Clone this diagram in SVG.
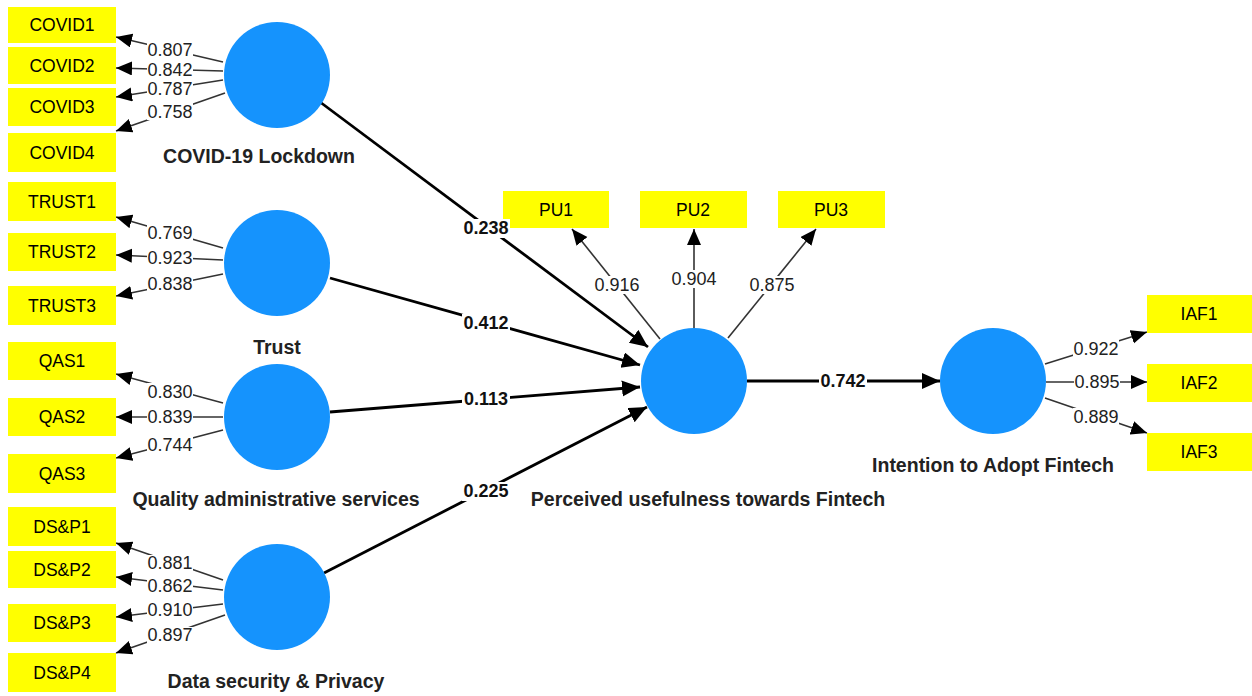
<svg xmlns="http://www.w3.org/2000/svg" width="1252" height="696" viewBox="0 0 1252 696">
<defs>
<style>
.box{fill:#ffff00}
.lv{fill:#1593fd}
.ind{font-family:"Liberation Sans",Arial,sans-serif;font-size:17.5px;text-anchor:middle;dominant-baseline:central;fill:#000}
.name{font-family:"Liberation Sans",Arial,sans-serif;font-size:19.5px;font-weight:bold;text-anchor:middle;fill:#222}
.ld{font-family:"Liberation Sans",Arial,sans-serif;font-size:18px;text-anchor:middle;dominant-baseline:central;fill:#222}
.pc{font-family:"Liberation Sans",Arial,sans-serif;font-size:18px;font-weight:bold;text-anchor:middle;dominant-baseline:central;fill:#111}
.thin{stroke:#333;stroke-width:1.6;fill:none;marker-end:url(#ah)}
.thick{stroke:#000;stroke-width:2.8;fill:none;marker-end:url(#ahb)}
.bg{fill:#fff}
</style>
<marker id="ah" markerUnits="userSpaceOnUse" markerWidth="17" markerHeight="15" refX="16" refY="7" orient="auto" viewBox="0 0 17 15">
<path d="M0,0 L16,7 L0,14 z" fill="#000"/>
</marker>
<marker id="ahb" markerUnits="userSpaceOnUse" markerWidth="19" markerHeight="17" refX="18" refY="8" orient="auto" viewBox="0 0 19 17">
<path d="M0,0 L18,8 L0,16 z" fill="#000"/>
</marker>
</defs>
<rect width="1252" height="696" fill="#fff"/>

<g id="connectors">
<!-- COVID loadings -->
<line class="thin" x1="223" y1="62" x2="116" y2="37"/>
<line class="thin" x1="223" y1="71" x2="116" y2="68"/>
<line class="thin" x1="223" y1="80" x2="116" y2="97"/>
<line class="thin" x1="225" y1="93" x2="116" y2="131"/>
<!-- TRUST loadings -->
<line class="thin" x1="223" y1="248" x2="116" y2="217"/>
<line class="thin" x1="223" y1="260" x2="116" y2="255"/>
<line class="thin" x1="223" y1="274" x2="116" y2="296"/>
<!-- QAS loadings -->
<line class="thin" x1="223" y1="403" x2="116" y2="374"/>
<line class="thin" x1="223" y1="417" x2="116" y2="417"/>
<line class="thin" x1="223" y1="430" x2="116" y2="458"/>
<!-- DSP loadings -->
<line class="thin" x1="223" y1="580" x2="116" y2="543"/>
<line class="thin" x1="223" y1="590" x2="116" y2="577"/>
<line class="thin" x1="223" y1="604" x2="116" y2="617"/>
<line class="thin" x1="225" y1="615" x2="116" y2="653"/>
<!-- PU loadings -->
<line class="thin" x1="660" y1="339" x2="572" y2="229"/>
<line class="thin" x1="694" y1="328" x2="694" y2="229"/>
<line class="thin" x1="728" y1="338" x2="816" y2="229"/>
<!-- IAF loadings -->
<line class="thin" x1="1045" y1="364" x2="1147" y2="332"/>
<line class="thin" x1="1046" y1="382" x2="1147" y2="382"/>
<line class="thin" x1="1045" y1="398" x2="1147" y2="433"/>
<!-- paths -->
<line class="thick" x1="320" y1="102" x2="648" y2="347"/>
<line class="thick" x1="330" y1="278" x2="640" y2="365"/>
<line class="thick" x1="330" y1="412" x2="640" y2="387"/>
<line class="thick" x1="324" y1="573" x2="647" y2="407"/>
<line class="thick" x1="747" y1="381" x2="940" y2="381"/>

<!-- loading labels -->
<g>
<rect class="bg" x="147" y="42" width="46" height="16"/><text class="ld" x="170" y="50">0.807</text>
<rect class="bg" x="147" y="62" width="46" height="16"/><text class="ld" x="170" y="70">0.842</text>
<rect class="bg" x="147" y="81" width="46" height="16"/><text class="ld" x="170" y="89">0.787</text>
<rect class="bg" x="147" y="103" width="46" height="17"/><text class="ld" x="170" y="112">0.758</text>

<rect class="bg" x="147" y="224" width="46" height="17"/><text class="ld" x="170" y="233">0.769</text>
<rect class="bg" x="147" y="250" width="46" height="16"/><text class="ld" x="170" y="258">0.923</text>
<rect class="bg" x="147" y="276" width="46" height="17"/><text class="ld" x="170" y="284">0.838</text>

<rect class="bg" x="147" y="383" width="46" height="17"/><text class="ld" x="170" y="392">0.830</text>
<rect class="bg" x="147" y="409" width="46" height="16"/><text class="ld" x="170" y="417">0.839</text>
<rect class="bg" x="147" y="437" width="46" height="17"/><text class="ld" x="170" y="445">0.744</text>

<rect class="bg" x="147" y="555" width="46" height="16"/><text class="ld" x="170" y="563">0.881</text>
<rect class="bg" x="147" y="578" width="46" height="16"/><text class="ld" x="170" y="586">0.862</text>
<rect class="bg" x="147" y="602" width="46" height="16"/><text class="ld" x="170" y="610">0.910</text>
<rect class="bg" x="147" y="627" width="46" height="17"/><text class="ld" x="170" y="635">0.897</text>

<rect class="bg" x="594" y="276" width="46" height="18"/><text class="ld" x="617" y="285">0.916</text>
<rect class="bg" x="671" y="270" width="46" height="18"/><text class="ld" x="694" y="279">0.904</text>
<rect class="bg" x="749" y="276" width="46" height="18"/><text class="ld" x="772" y="285">0.875</text>

<rect class="bg" x="1073" y="340" width="46" height="18"/><text class="ld" x="1096" y="349">0.922</text>
<rect class="bg" x="1074" y="373" width="46" height="18"/><text class="ld" x="1097" y="382">0.895</text>
<rect class="bg" x="1073" y="408" width="46" height="18"/><text class="ld" x="1096" y="417">0.889</text>
</g>
</g>

<g id="node-COVID1"><rect class="box" x="8" y="7" width="108" height="36"/><text class="ind" x="62" y="25">COVID1</text></g>
<g id="node-COVID2"><rect class="box" x="8" y="47" width="108" height="37"/><text class="ind" x="62" y="66">COVID2</text></g>
<g id="node-COVID3"><rect class="box" x="8" y="88" width="108" height="38"/><text class="ind" x="62" y="107">COVID3</text></g>
<g id="node-COVID4"><rect class="box" x="8" y="133" width="108" height="39"/><text class="ind" x="62" y="153">COVID4</text></g>

<g id="node-TRUST1"><rect class="box" x="8" y="182" width="108" height="39"/><text class="ind" x="62" y="202">TRUST1</text></g>
<g id="node-TRUST2"><rect class="box" x="8" y="233" width="108" height="38"/><text class="ind" x="62" y="252">TRUST2</text></g>
<g id="node-TRUST3"><rect class="box" x="8" y="286" width="108" height="39"/><text class="ind" x="62" y="306">TRUST3</text></g>

<g id="node-QAS1"><rect class="box" x="8" y="342" width="108" height="38"/><text class="ind" x="62" y="361">QAS1</text></g>
<g id="node-QAS2"><rect class="box" x="8" y="398" width="108" height="38"/><text class="ind" x="62" y="417">QAS2</text></g>
<g id="node-QAS3"><rect class="box" x="8" y="454" width="108" height="39"/><text class="ind" x="62" y="474">QAS3</text></g>

<g id="node-DSP1"><rect class="box" x="8" y="507" width="108" height="39"/><text class="ind" x="62" y="527">DS&amp;P1</text></g>
<g id="node-DSP2"><rect class="box" x="8" y="551" width="108" height="37"/><text class="ind" x="62" y="570">DS&amp;P2</text></g>
<g id="node-DSP3"><rect class="box" x="8" y="604" width="108" height="38"/><text class="ind" x="62" y="623">DS&amp;P3</text></g>
<g id="node-DSP4"><rect class="box" x="8" y="653" width="108" height="39"/><text class="ind" x="62" y="673">DS&amp;P4</text></g>

<g id="node-PU1"><rect class="box" x="503" y="191" width="106" height="37"/><text class="ind" x="556" y="210">PU1</text></g>
<g id="node-PU2"><rect class="box" x="640" y="191" width="107" height="37"/><text class="ind" x="693" y="210">PU2</text></g>
<g id="node-PU3"><rect class="box" x="778" y="191" width="107" height="37"/><text class="ind" x="831" y="210">PU3</text></g>

<g id="node-IAF1"><rect class="box" x="1147" y="295" width="105" height="38"/><text class="ind" x="1199" y="314">IAF1</text></g>
<g id="node-IAF2"><rect class="box" x="1147" y="364" width="105" height="38"/><text class="ind" x="1199" y="383">IAF2</text></g>
<g id="node-IAF3"><rect class="box" x="1147" y="433" width="105" height="38"/><text class="ind" x="1199" y="452">IAF3</text></g>

<g id="node-COVID"><circle class="lv" cx="277" cy="75" r="53"/><text class="name" x="259" y="163">COVID-19 Lockdown</text></g>
<g id="node-TRUST"><circle class="lv" cx="277" cy="263" r="53"/><text class="name" x="277" y="354">Trust</text></g>
<g id="node-QAS"><circle class="lv" cx="277" cy="417" r="53"/><text class="name" x="276" y="506">Quality administrative services</text></g>
<g id="node-DSP"><circle class="lv" cx="277" cy="597" r="53"/><text class="name" x="276" y="688">Data security &amp; Privacy</text></g>
<g id="node-PU"><circle class="lv" cx="694" cy="381" r="53"/><text class="name" x="708" y="506">Perceived usefulness towards Fintech</text></g>
<g id="node-IAF"><circle class="lv" cx="993" cy="381" r="53"/><text class="name" x="993" y="472">Intention to Adopt Fintech</text></g>

<g id="path-labels">
<rect class="bg" x="462" y="219" width="48" height="19"/><text class="pc" x="486" y="228">0.238</text>
<rect class="bg" x="462" y="314" width="48" height="19"/><text class="pc" x="486" y="323">0.412</text>
<rect class="bg" x="462" y="390" width="48" height="19"/><text class="pc" x="486" y="399">0.113</text>
<rect class="bg" x="462" y="482" width="48" height="19"/><text class="pc" x="486" y="491">0.225</text>
<rect class="bg" x="819" y="372" width="48" height="19"/><text class="pc" x="843" y="381">0.742</text>
</g>
</svg>
